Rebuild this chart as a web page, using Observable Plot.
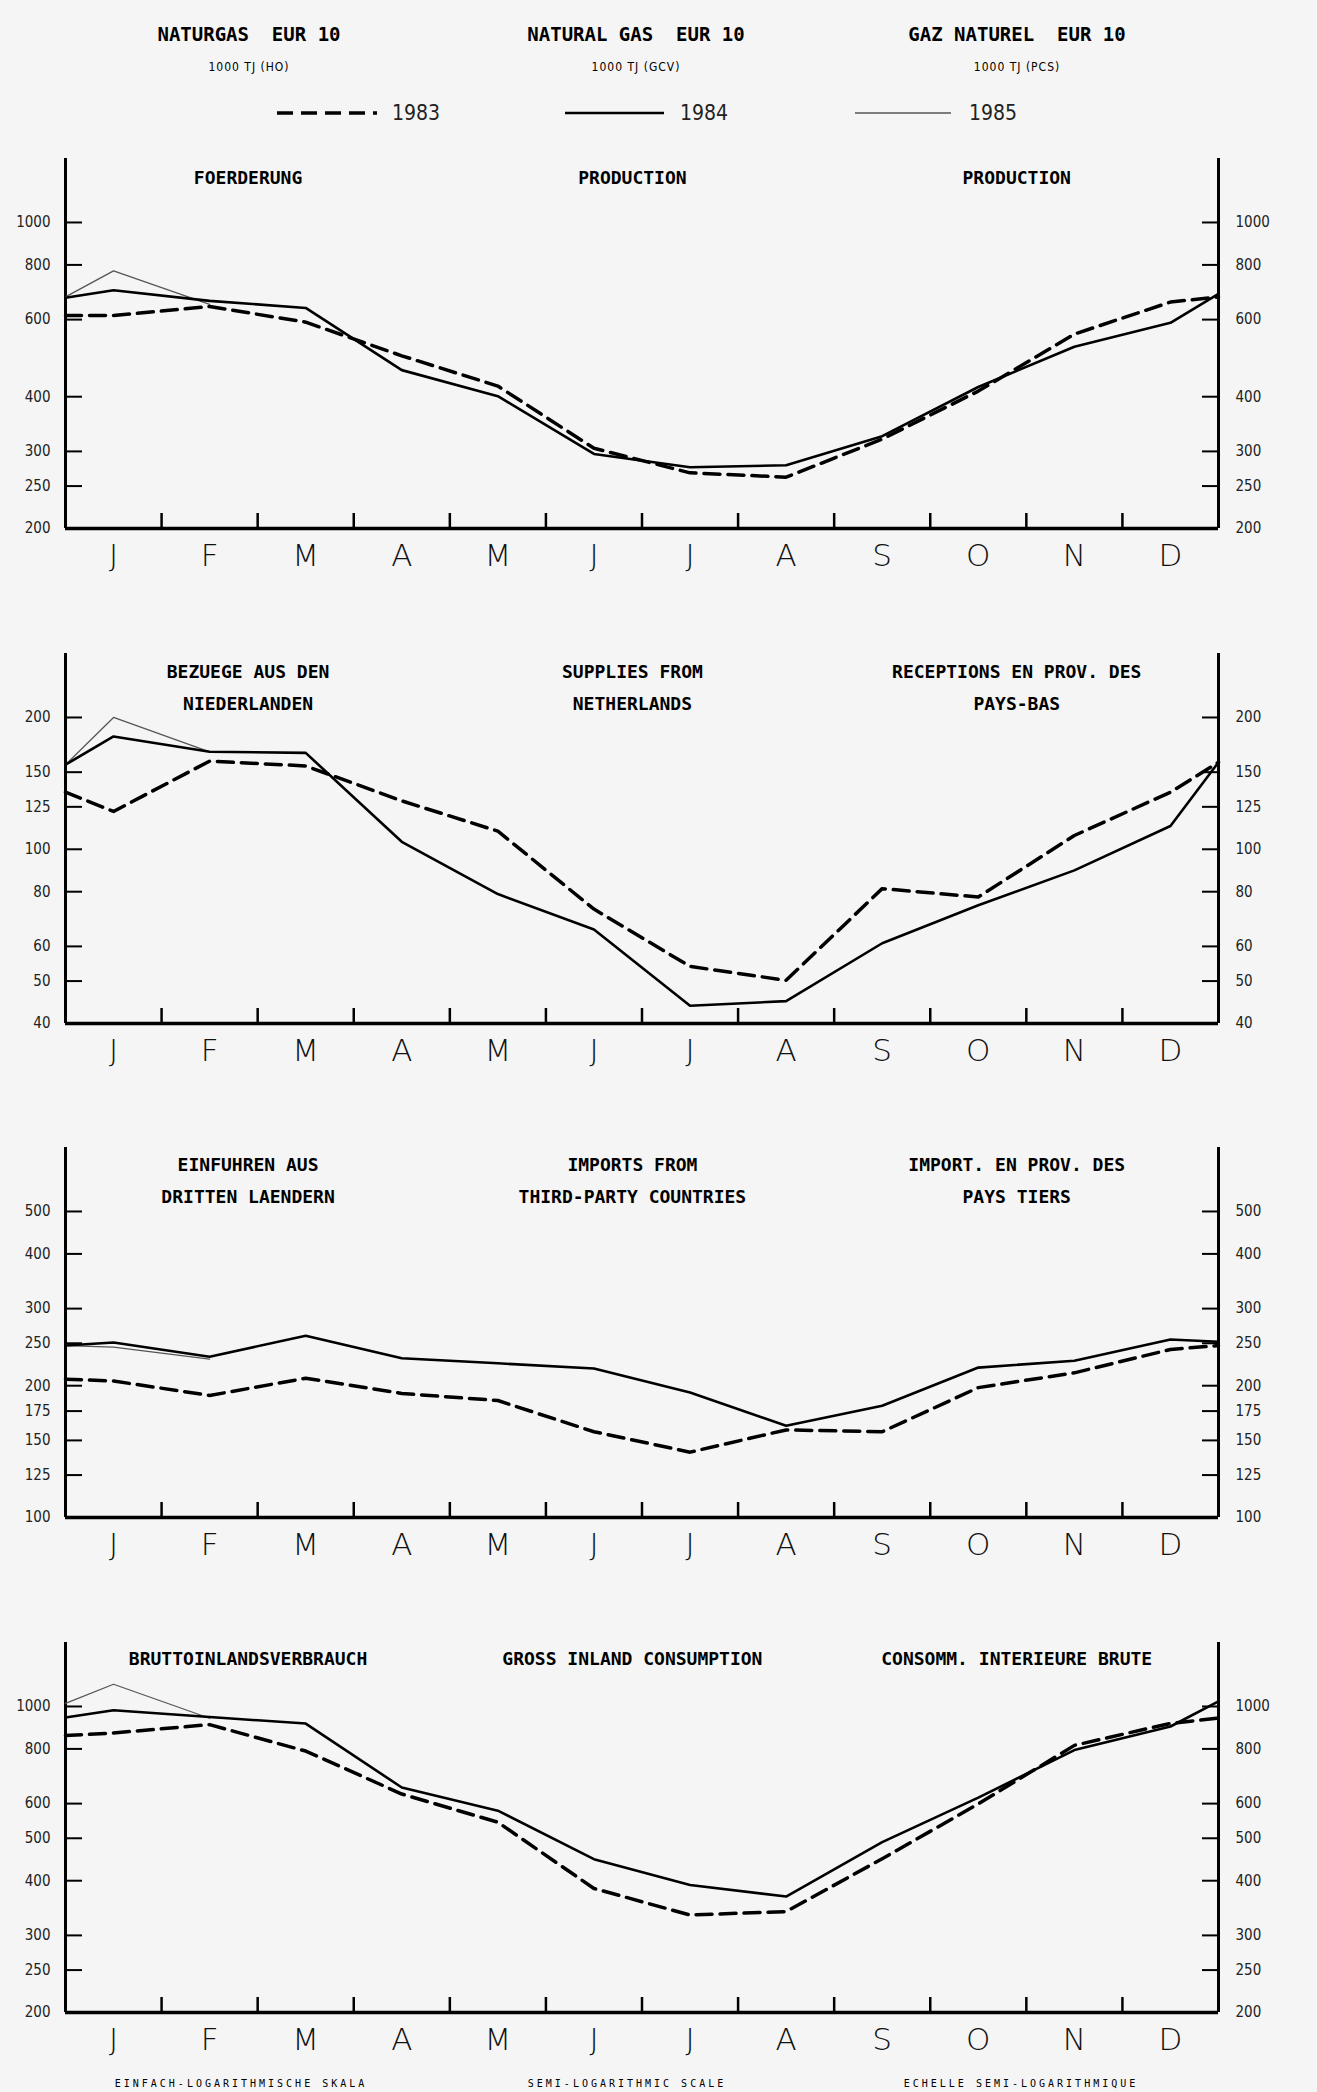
<!DOCTYPE html>
<html><head><meta charset="utf-8">
<script src="https://cdn.jsdelivr.net/npm/d3@7"></script>
<script src="https://cdn.jsdelivr.net/npm/@observablehq/plot@0.6"></script>
<style>
body{margin:0;background:#f5f5f5;}
#page{position:relative;width:1317px;height:2092px;overflow:hidden;background:#f5f5f5;}
.abs{position:absolute;transform:translate(-50%,-50%);white-space:pre;color:#000;}
.htitle{font-family:"DejaVu Sans Mono",monospace;font-weight:bold;font-size:19px;}
.hunit{font-family:"DejaVu Sans Condensed","DejaVu Sans",sans-serif;font-size:12px;letter-spacing:1px;}
.leg{font-family:"Liberation Sans Narrow","DejaVu Sans Condensed",sans-serif;font-size:21px;color:#222;}
.foot{font-family:"DejaVu Sans Mono",monospace;font-size:10px;letter-spacing:3px;}
.plot{position:absolute;left:0;}
</style></head><body><div id="page"></div>
<script>
// ---------- data ----------
const months = ["J","F","M","A","M","J","J","A","S","O","N","D"];
const years = ["1983","1984","1985"];
const headTitles = ["NATURGAS  EUR 10","NATURAL GAS  EUR 10","GAZ NATUREL  EUR 10"];
const headUnits = ["1000 TJ (HO)","1000 TJ (GCV)","1000 TJ (PCS)"];
const footTexts = ["EINFACH-LOGARITHMISCHE SKALA","SEMI-LOGARITHMIC SCALE","ECHELLE SEMI-LOGARITHMIQUE"];

// series: [value at start edge, Jan..Dec, value at end edge]
const prod1983 = [613, 613, 643, 592, 496, 423, 305, 268, 262, 320, 412, 556, 658, 676];
const prod1984 = [673, 700, 662, 638, 460, 401, 296, 276, 279, 325, 421, 520, 590, 687];
const prod1985 = [676, 775, 650];
const prodTicks = [200, 250, 300, 400, 600, 800, 1000];
const prodTitles = [["FOERDERUNG"],["PRODUCTION"],["PRODUCTION"]];

const nl1983 = [135, 122, 159, 155, 129, 110, 73, 54, 50.2, 81.3, 77.8, 107.5, 135, 158];
const nl1984 = [156, 181, 167, 166, 104, 79, 65.6, 43.9, 45, 61, 74.5, 89.5, 113, 158];
const nl1985 = [156, 200, 167];
const nlTicks = [40, 50, 60, 80, 100, 125, 150, 200];
const nlTitles = [["BEZUEGE AUS DEN","NIEDERLANDEN"],["SUPPLIES FROM","NETHERLANDS"],["RECEPTIONS EN PROV. DES","PAYS-BAS"]];

const tc1983 = [207, 205, 190, 208, 192, 185, 157, 141, 158.5, 157, 198, 214, 242, 247];
const tc1984 = [247, 251, 233, 260, 231, 225, 219, 193, 162, 180, 220, 228, 255, 252];
const tc1985 = [247, 245, 230];
const tcTicks = [100, 125, 150, 175, 200, 250, 300, 400, 500];
const tcTitles = [["EINFUHREN AUS","DRITTEN LAENDERN"],["IMPORTS FROM","THIRD-PARTY COUNTRIES"],["IMPORT. EN PROV. DES","PAYS TIERS"]];

const gic1983 = [858, 870, 909, 791, 631, 544, 384, 334, 340, 449, 599, 815, 915, 941];
const gic1984 = [944, 980, 946, 914, 653, 578, 448, 391, 368, 490, 619, 795, 900, 1027];
const gic1985 = [1017, 1124, 940];
const gicTicks = [200, 250, 300, 400, 500, 600, 800, 1000];
const gicTitles = [["BRUTTOINLANDSVERBRAUCH"],["GROSS INLAND CONSUMPTION"],["CONSOMM. INTERIEURE BRUTE"]];

// ---------- layout ----------
const page = document.getElementById("page");
const W = 1317, ML = 65, MR = 99, H = 370, MT = 10, MB = 62;
const PW = W - ML - MR;
const titleCols = [1.9, 5.9, 9.9];
const DASH = "16,8";

function addText(cls, txt, x, y) {
  const d = document.createElement("div");
  d.className = "abs " + cls;
  d.textContent = txt;
  d.style.left = x + "px"; d.style.top = y + "px";
  page.appendChild(d);
}
// header
const headX = [249, 636, 1017];
headTitles.forEach((t, i) => addText("htitle", t, headX[i], 34));
headUnits.forEach((t, i) => addText("hunit", t, headX[i], 67));
// legend
const legSvg = d3.create("svg").attr("width", W).attr("height", 30)
  .style("position", "absolute").style("left", 0).style("top", "98px");
const legStyles = [
  {x1: 277, x2: 377, w: 3.5, dash: DASH, c: "#000"},
  {x1: 565, x2: 664, w: 2.5, dash: null, c: "#000"},
  {x1: 855, x2: 951, w: 1.3, dash: null, c: "#555"}
];
legStyles.forEach(s => {
  legSvg.append("line").attr("x1", s.x1).attr("x2", s.x2).attr("y1", 15).attr("y2", 15)
    .attr("stroke", s.c).attr("stroke-width", s.w).attr("stroke-dasharray", s.dash);
});
page.appendChild(legSvg.node());
const legX = [416, 704, 993];
years.forEach((t, i) => addText("leg", t, legX[i], 113));
// footer
const footX = [241, 627, 1021];
footTexts.forEach((t, i) => addText("foot", t, footX[i], 2083));

function pts(arr, year) {
  return arr.map((v, i) => ({x: i === 0 ? 0 : (i === 13 ? 12 : i - 0.5), v, year}));
}

function panel(cfg) {
  const innerTicks = cfg.ticks.filter(t => t > cfg.lo);
  const first = cfg.titles.map(a => a[0]);
  const second = cfg.titles.map(a => a[1] || "");
  const tf = {fontSize: 18, fontWeight: "bold", fontFamily: "DejaVu Sans Mono, monospace", fill: "#000",
    frameAnchor: "top", lineAnchor: "middle"};
  const lbl = {fontSize: 15, fontFamily: "DejaVu Sans Condensed, DejaVu Sans, sans-serif", fill: "#222"};
  const chart = Plot.plot({
    width: W, height: H + MT + MB,
    marginLeft: ML, marginRight: MR, marginTop: MT, marginBottom: MB,
    x: {domain: [0, 12], axis: null},
    y: {type: "log", domain: [cfg.lo, cfg.lo * 7], axis: null},
    style: {background: "transparent", overflow: "visible"},
    marks: [
      Plot.ruleX([0, 12], {x: d => d, stroke: "#000", strokeWidth: 3}),
      Plot.ruleY([cfg.lo], {y: d => d, stroke: "#000", strokeWidth: 3.5}),
      Plot.ruleY(innerTicks, {y: d => d, insetRight: PW - 17, stroke: "#000", strokeWidth: 2}),
      Plot.ruleY(innerTicks, {y: d => d, insetLeft: PW - 16, stroke: "#000", strokeWidth: 2}),
      Plot.ruleX(d3.range(1, 12), {x: d => d, insetTop: H - 15, stroke: "#000", strokeWidth: 2.5}),
      Plot.text(cfg.ticks, {y: d => d, text: d => String(d), frameAnchor: "left", textAnchor: "end", dx: -15, ...lbl}),
      Plot.text(cfg.ticks, {y: d => d, text: d => String(d), frameAnchor: "right", textAnchor: "start", dx: 17, ...lbl}),
      Plot.text(months, {x: (d, i) => i + 0.5, text: d => d, frameAnchor: "bottom", dy: 28, lineAnchor: "middle",
        fontSize: 31, fontWeight: 200, fontFamily: "DejaVu Sans, sans-serif", fill: "#111"}),
      Plot.text(first, {x: (d, i) => titleCols[i], text: d => d, dy: cfg.titleDy, ...tf}),
      Plot.text(second, {x: (d, i) => titleCols[i], text: d => d, dy: cfg.titleDy + 32, ...tf}),
      Plot.line(pts(cfg.s85, "1985"), {x: "x", y: "v", stroke: "#555", strokeWidth: 1.3}),
      Plot.line(pts(cfg.s84, "1984"), {x: "x", y: "v", stroke: "#000", strokeWidth: 2.6, strokeLinejoin: "round"}),
      Plot.line(pts(cfg.s83, "1983"), {x: "x", y: "v", stroke: "#000", strokeWidth: 3.5, strokeDasharray: DASH})
    ]
  });
  chart.classList.add("plot");
  chart.style.top = (cfg.top - MT) + "px";
  page.appendChild(chart);
}

panel({top: 158, lo: 200, ticks: prodTicks, s83: prod1983, s84: prod1984, s85: prod1985, titles: prodTitles, titleDy: 20});
panel({top: 653, lo: 40, ticks: nlTicks, s83: nl1983, s84: nl1984, s85: nl1985, titles: nlTitles, titleDy: 19});
panel({top: 1147, lo: 100, ticks: tcTicks, s83: tc1983, s84: tc1984, s85: tc1985, titles: tcTitles, titleDy: 18});
panel({top: 1642, lo: 200, ticks: gicTicks, s83: gic1983, s84: gic1984, s85: gic1985, titles: gicTitles, titleDy: 17});
</script></body></html>
